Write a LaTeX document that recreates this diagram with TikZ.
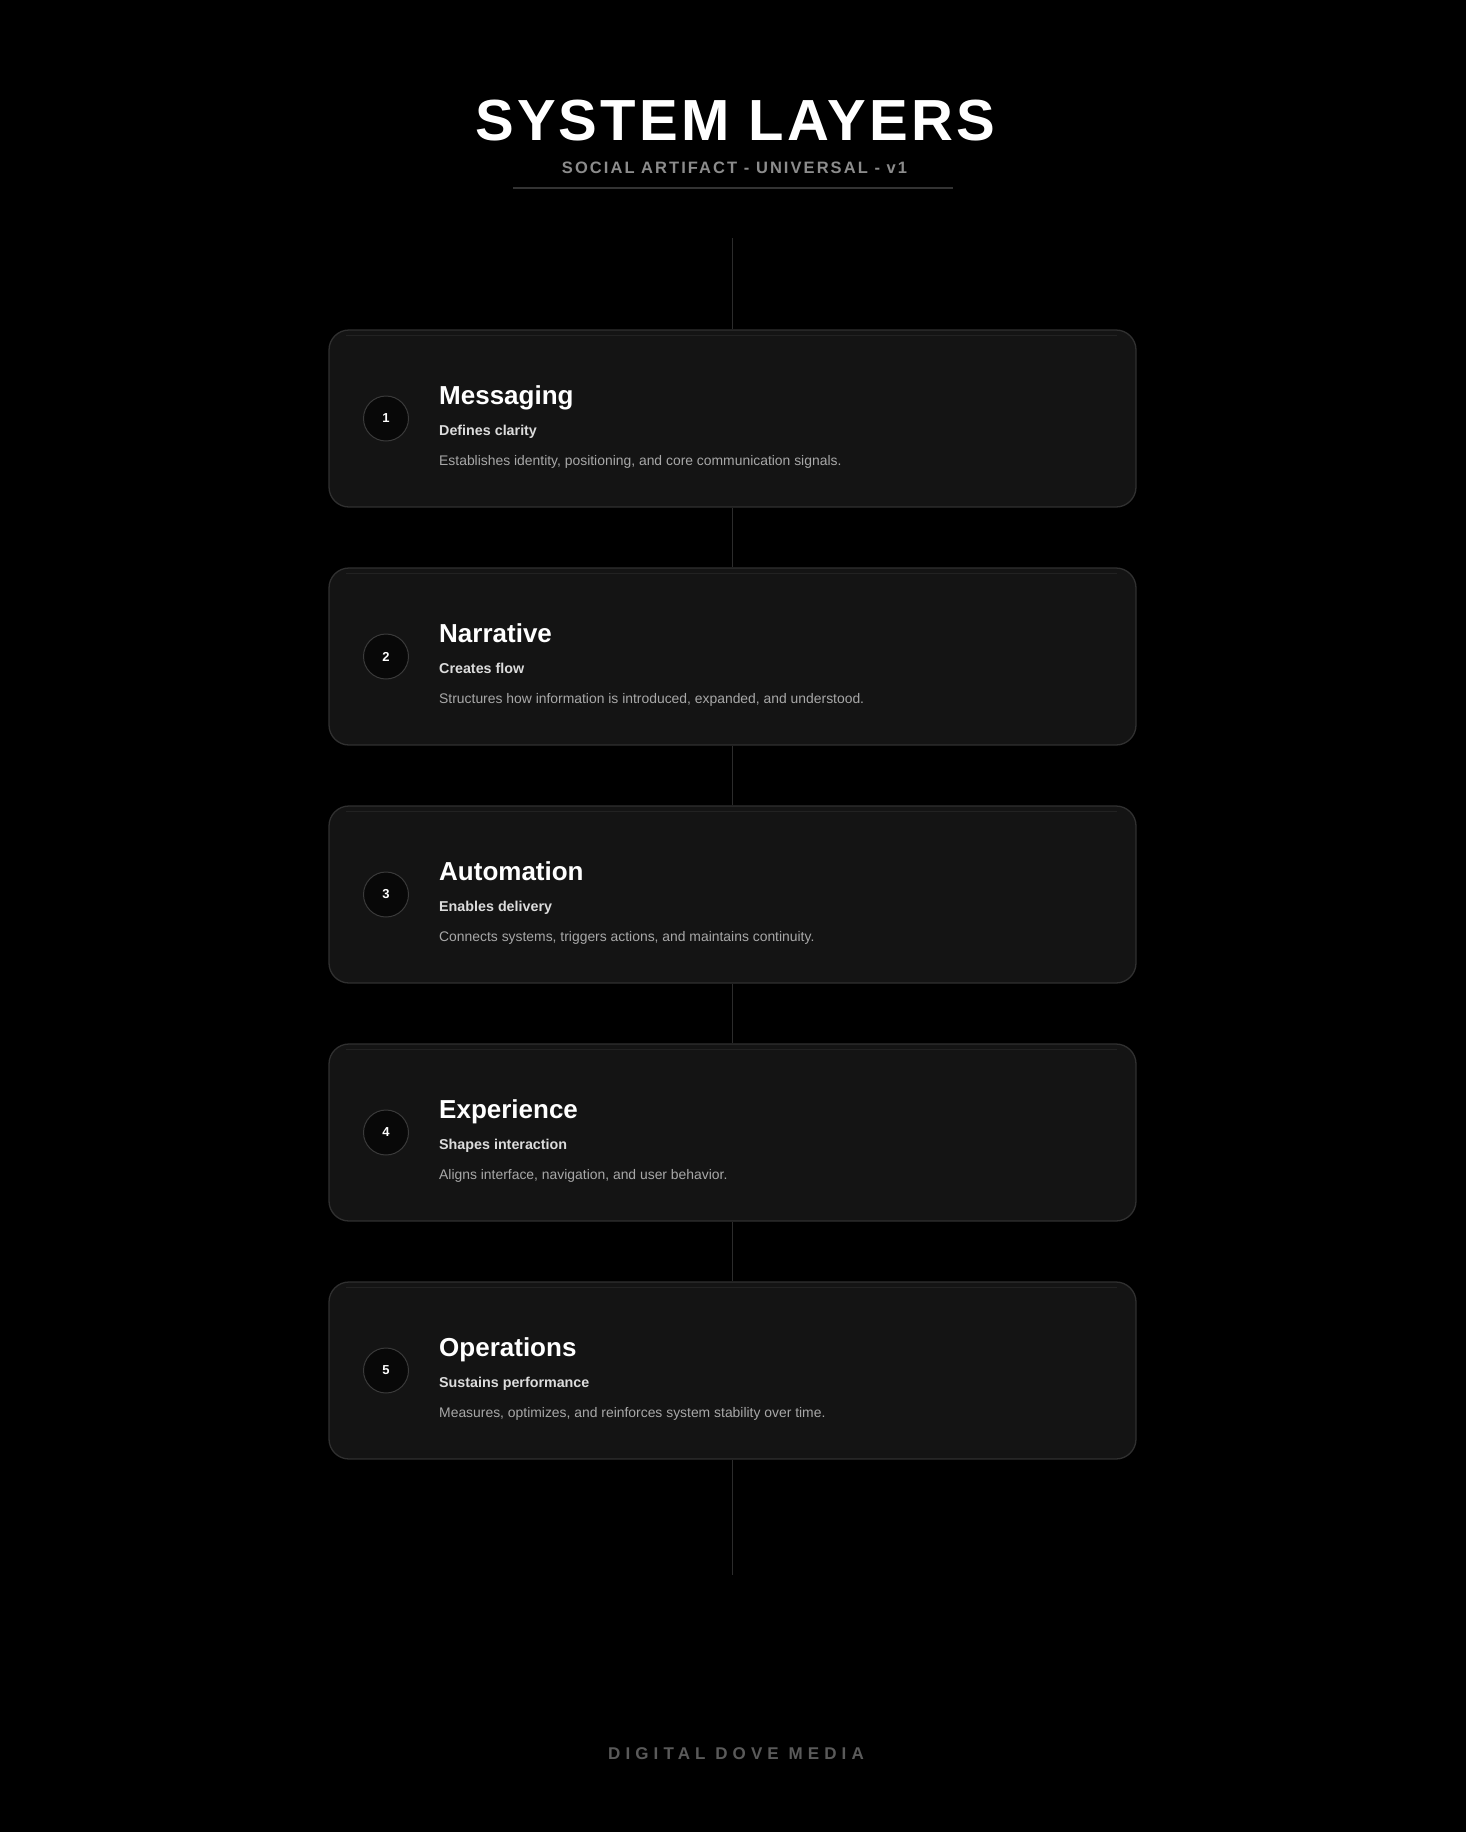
\documentclass[tikz,border=0pt]{standalone}
\usepackage{fontspec}
\setmainfont{Liberation Sans}
\newfontfamily\titlefont[LetterSpace=5.5]{Liberation Sans}
\newfontfamily\subtfont[LetterSpace=12.5]{Liberation Sans}
\newfontfamily\footfont[LetterSpace=30]{Liberation Sans}
\definecolor{bg}{HTML}{000000}
\definecolor{cardfill}{HTML}{141414}
\definecolor{cardborder}{HTML}{303030}
\definecolor{hiline}{HTML}{222222}
\definecolor{spinecol}{HTML}{2C2C2C}
\definecolor{circfill}{HTML}{080808}
\definecolor{circborder}{HTML}{3A3A3A}
\definecolor{subcol}{HTML}{DCDCDC}
\definecolor{desccol}{HTML}{A8A8A8}
\definecolor{subtcol}{HTML}{8C8C8C}
\definecolor{rulecol}{HTML}{333333}
\definecolor{footcol}{HTML}{5A5A5A}
\tikzset{
  card/.style={draw=cardborder, line width=1.3pt, fill=cardfill, rounded corners=20pt,
    minimum width=807pt, minimum height=177pt, inner sep=0pt},
  hilite/.style={draw=hiline, line width=1.5pt},
  spine/.style={draw=spinecol, line width=1.5pt},
  numcirc/.style={circle, draw=circborder, fill=circfill, line width=1pt, minimum size=45pt,
    inner sep=0pt, text=white, font=\bfseries\fontsize{13}{13}\selectfont},
  ttl/.style={anchor=base west, inner sep=0pt, text=white, font=\bfseries\fontsize{26}{26}\selectfont},
  subl/.style={anchor=base west, inner sep=0pt, text=subcol, font=\bfseries\fontsize{14.3}{14.3}\selectfont},
  descl/.style={anchor=base west, inner sep=0pt, text=desccol, font=\fontsize{13.9}{13.9}\selectfont},
}
\newcommand\layercard[5]{%
  \node[card] (card#1) at (732.5, #2+88.5) {};
  \draw[hilite] ([xshift=18pt,yshift=-6pt]card#1.north west) -- ([xshift=-20pt,yshift=-6pt]card#1.north east);
  \node[numcirc] (num#1) at (386, #2+88.5) {#1};
  \node[ttl] (ttl#1) at (439, #2+74) {#3};
  \node[subl] (sub#1) at (439, #2+105.5) {#4};
  \node[descl] (desc#1) at (439, #2+135.5) {#5};
}
\begin{document}
\begin{tikzpicture}[x=1pt,y=-1pt]
  \fill[bg] (0,0) rectangle (1466,1832);
  \useasboundingbox (0,0) rectangle (1466,1832);
  % header
  \node[anchor=base, inner sep=0pt, text=white, font=\titlefont\bfseries\fontsize{58}{60}\selectfont] (title) at (735,140) {SYSTEM LAYERS};
  \node[anchor=base, inner sep=0pt, text=subtcol, font=\subtfont\bfseries\fontsize{16.5}{17}\selectfont] (subtitle) at (734.5,173.5) {SOCIAL ARTIFACT - UNIVERSAL - v1};
  \coordinate (rl) at (513,188);
  \coordinate (rr) at (953,188);
  \draw[draw=rulecol, line width=1.2pt] (rl) -- (rr);
  % cards
  \layercard{1}{330}{Messaging}{Defines clarity}{Establishes identity, positioning, and core communication signals.}
  \layercard{2}{568}{Narrative}{Creates flow}{Structures how information is introduced, expanded, and understood.}
  \layercard{3}{806}{Automation}{Enables delivery}{Connects systems, triggers actions, and maintains continuity.}
  \layercard{4}{1044}{Experience}{Shapes interaction}{Aligns interface, navigation, and user behavior.}
  \layercard{5}{1282}{Operations}{Sustains performance}{Measures, optimizes, and reinforces system stability over time.}
  % spine
  \coordinate (spinetop) at (732.5,238);
  \coordinate (spinebot) at (732.5,1575);
  \draw[spine] (spinetop) -- (card1.north);
  \draw[spine] (card1.south) -- (card2.north);
  \draw[spine] (card2.south) -- (card3.north);
  \draw[spine] (card3.south) -- (card4.north);
  \draw[spine] (card4.south) -- (card5.north);
  \draw[spine] (card5.south) -- (spinebot);
  % footer
  \node[anchor=base, inner sep=0pt, text=footcol, font=\footfont\bfseries\fontsize{17}{17}\selectfont] (footer) at (736,1759) {DIGITAL DOVE MEDIA};
\end{tikzpicture}
\end{document}
